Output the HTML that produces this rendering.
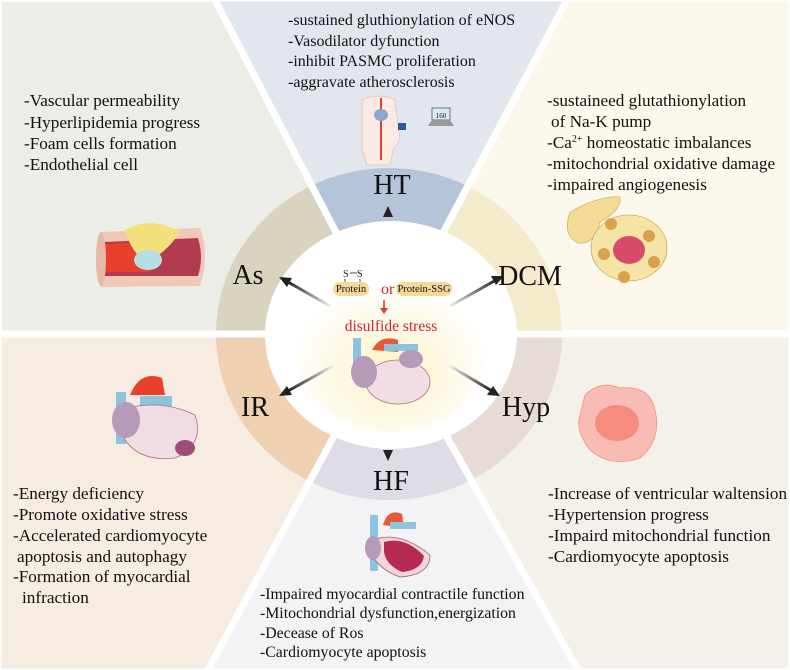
<!DOCTYPE html>
<html><head><meta charset="utf-8"><style>
html,body{margin:0;padding:0;background:#fff}
svg{display:block}
text{font-family:"Liberation Serif",serif;fill:#111}
</style></head><body>
<svg width="790" height="670" viewBox="0 0 790 670" xmlns="http://www.w3.org/2000/svg">
<defs>
<clipPath id="ring"><ellipse cx="389" cy="334" rx="173" ry="166"/></clipPath>
<radialGradient id="glow" cx="0.5" cy="0.62" r="0.55">
<stop offset="0" stop-color="#fdf3c6"/><stop offset="0.55" stop-color="#fef9e6"/><stop offset="1" stop-color="#ffffff"/>
</radialGradient>
<linearGradient id="gu" x1="0" y1="1" x2="0" y2="0"><stop offset="0" stop-color="#fff"/><stop offset="1" stop-color="#222"/></linearGradient>
<linearGradient id="gd" x1="0" y1="0" x2="0" y2="1"><stop offset="0" stop-color="#fff"/><stop offset="1" stop-color="#111"/></linearGradient>
<linearGradient id="gl" x1="1" y1="0" x2="0" y2="0"><stop offset="0" stop-color="#eee"/><stop offset="1" stop-color="#222"/></linearGradient>
<linearGradient id="gr" x1="0" y1="0" x2="1" y2="0"><stop offset="0" stop-color="#eee"/><stop offset="1" stop-color="#222"/></linearGradient>
</defs>
<polygon points="389,334 215,0 567,0" fill="#e2e7ee"/>
<polygon points="389,334 0,334 0,0 215,0" fill="#ecede6"/>
<polygon points="389,334 567,0 790,0 790,334" fill="#fcf8ec"/>
<polygon points="389,334 790,334 790,670 578,670" fill="#f4f0ea"/>
<polygon points="389,334 578,670 208,670" fill="#f3f2f4"/>
<polygon points="389,334 208,670 0,670 0,334" fill="#f6ece2"/>
<g clip-path="url(#ring)">
<polygon points="389,334 215,0 567,0" fill="#b6c4da"/>
<polygon points="389,334 0,334 0,0 215,0" fill="#d9d4c0"/>
<polygon points="389,334 567,0 790,0 790,334" fill="#f4ebcd"/>
<polygon points="389,334 790,334 790,670 578,670" fill="#e7dbd5"/>
<polygon points="389,334 578,670 208,670" fill="#dfdce5"/>
<polygon points="389,334 208,670 0,670 0,334" fill="#efd1b2"/>
</g>
<g stroke="#fff" stroke-width="7">
<line x1="389" y1="334" x2="215" y2="0"/><line x1="389" y1="334" x2="567" y2="0"/>
<line x1="389" y1="334" x2="208" y2="670"/><line x1="389" y1="334" x2="578" y2="670"/>
<line x1="0" y1="334" x2="790" y2="334"/>
</g>
<rect x="0" y="0" width="790" height="670" fill="none" stroke="#fff" stroke-width="3"/>
<ellipse cx="391" cy="335" rx="126" ry="114" fill="#fff"/>
<ellipse cx="391" cy="352" rx="95" ry="80" fill="url(#glow)"/>

<g stroke-width="3">
<line x1="388" y1="282" x2="388" y2="216" stroke="url(#gu)"/>
<line x1="388" y1="412" x2="388" y2="452" stroke="url(#gd)"/>
<line x1="330" y1="306" x2="288" y2="282" stroke="url(#gl)"/>
<line x1="333" y1="366" x2="288" y2="391" stroke="url(#gl)"/>
<line x1="450" y1="306" x2="496" y2="280" stroke="url(#gr)"/>
<line x1="450" y1="366" x2="492" y2="391" stroke="url(#gr)"/>
</g>
<g fill="#222">
<polygon points="388,206 383,217 393,217"/>
<polygon points="388,461 383,450 393,450"/>
<polygon points="279,277 292,278 287,287"/>
<polygon points="279,396 287,386 292,395"/>
<polygon points="504,276 491,276 496,285"/>
<polygon points="500,396 487,395 493,386"/>
</g>

<g font-size="28">
<text x="392" y="194" text-anchor="middle">HT</text>
<text x="248" y="284" text-anchor="middle">As</text>
<text x="530" y="285" text-anchor="middle">DCM</text>
<text x="255" y="416" text-anchor="middle">IR</text>
<text x="526" y="416" text-anchor="middle">Hyp</text>
<text x="391" y="490" text-anchor="middle">HF</text>
</g>

<text x="343" y="277" font-size="10">S</text><text x="357" y="277" font-size="10">S</text>
<line x1="350" y1="273" x2="357" y2="273" stroke="#222" stroke-width="0.8"/>
<line x1="345" y1="279" x2="345" y2="283" stroke="#222" stroke-width="0.8"/>
<line x1="360" y1="279" x2="360" y2="283" stroke="#222" stroke-width="0.8"/>
<rect x="333" y="282" width="36" height="14" rx="7" fill="#f8d89a"/>
<text x="351" y="292" font-size="10.5" text-anchor="middle">Protein</text>
<text x="381" y="294" font-size="16" style="fill:#cc2b2b">or</text>
<rect x="396" y="282" width="56" height="14" rx="7" fill="#f8d89a"/>
<text x="424" y="292" font-size="10.5" text-anchor="middle">Protein-SSG</text>
<line x1="384" y1="300" x2="384" y2="309" stroke="#e03a2a" stroke-width="1.5"/>
<polygon points="380,308 388,308 384,314" fill="#e03a2a"/>
<text x="391" y="331" font-size="15.5" text-anchor="middle" style="fill:#c8282e">disulfide stress</text>

<g>
<rect x="353" y="338" width="8" height="38" fill="#8ec3de"/>
<path d="M372,350 Q380,334 398,340 L398,352 Z" fill="#e8593a"/>
<rect x="384" y="344" width="34" height="7" fill="#8ec3de"/>
<ellipse cx="398" cy="382" rx="32" ry="22" fill="#f1dde3" stroke="#b0707a" stroke-width="0.8"/>
<ellipse cx="364" cy="372" rx="13" ry="16" fill="#b69ab8"/>
<ellipse cx="411" cy="359" rx="12" ry="9" fill="#b69ab8"/>
</g>

<g font-size="16">
<text x="288" y="25">-sustained gluthionylation of eNOS</text>
<text x="288" y="46">-Vasodilator dyfunction</text>
<text x="288" y="66">-inhibit PASMC proliferation</text>
<text x="288" y="87">-aggravate atherosclerosis</text>
</g>
<g font-size="17.2">
<text x="24" y="106">-Vascular permeability</text>
<text x="24" y="128">-Hyperlipidemia progress</text>
<text x="24" y="149">-Foam cells formation</text>
<text x="24" y="170">-Endothelial cell</text>

<text x="547" y="106">-sustaineed glutathionylation</text>
<text x="551" y="127">of Na-K  pump</text>
<text x="547" y="148">-Ca<tspan font-size="10" dy="-6">2+</tspan><tspan dy="6"> homeostatic imbalances</tspan></text>
<text x="547" y="169">-mitochondrial oxidative damage</text>
<text x="547" y="190">-impaired angiogenesis</text>

<text x="13" y="499">-Energy deficiency</text>
<text x="13" y="520">-Promote oxidative stress</text>
<text x="13" y="541">-Accelerated cardiomyocyte</text>
<text x="17" y="562">apoptosis and autophagy</text>
<text x="13" y="582">-Formation of myocardial</text>
<text x="22" y="603">infraction</text>

<text x="548" y="499">-Increase of ventricular waltension</text>
<text x="548" y="520">-Hypertension progress</text>
<text x="548" y="541">-Impaird mitochondrial function</text>
<text x="548" y="562">-Cardiomyocyte apoptosis</text>
</g>
<g font-size="15.8">
<text x="260" y="599">-Impaired myocardial contractile function</text>
<text x="260" y="618">-Mitochondrial dysfunction,energization</text>
<text x="260" y="638">-Decease of Ros</text>
<text x="260" y="657">-Cardiomyocyte apoptosis</text>
</g>

<g>
<path d="M362,100 Q378,92 395,100 L400,140 L393,150 L390,165 L367,165 L362,150 Z" fill="#fbeae3" stroke="#d8b8ae" stroke-width="0.6"/>
<line x1="381" y1="98" x2="381" y2="160" stroke="#e0402a" stroke-width="2"/>
<ellipse cx="381" cy="115" rx="7" ry="6" fill="#8aa7cc"/>
<rect x="398" y="123" width="8" height="7" fill="#2a5a9a"/>
<rect x="432" y="108" width="18" height="12" fill="#d8eaf3" stroke="#555" stroke-width="0.8"/>
<text x="441" y="118" font-size="7" text-anchor="middle">160</text>
<path d="M428,126 L454,126 L450,120 L432,120 Z" fill="#999"/>
</g>

<g>
<path d="M100,232 L200,228 Q210,255 200,286 L100,287 Z" fill="#f1c7b8"/>
<path d="M104,242 L198,238 Q204,258 198,276 L104,276 Z" fill="#b23a4e"/>
<path d="M104,244 L150,242 L150,272 L104,272 Z" fill="#e8402a"/>
<path d="M125,230 Q150,215 180,232 Q165,255 145,262 Q130,250 125,230 Z" fill="#f3e07c"/>
<ellipse cx="148" cy="260" rx="14" ry="10" fill="#b7dde6"/>
<ellipse cx="101" cy="259" rx="5" ry="27" fill="#e8b8a8"/>
</g>

<g>
<path d="M570,212 Q600,195 620,197 Q622,210 600,222 Q595,245 578,243 Q562,235 570,212 Z" fill="#f5dc96" stroke="#c9a85a" stroke-width="0.6"/>
<ellipse cx="629" cy="248" rx="38" ry="33" fill="#f6e3a6" stroke="#b89858" stroke-width="0.6"/>
<ellipse cx="629" cy="250" rx="16" ry="14" fill="#d84a6a"/>
<circle cx="611" cy="224" r="6" fill="#d9a14a"/><circle cx="649" cy="236" r="6" fill="#d9a14a"/>
<circle cx="604" cy="254" r="6" fill="#d9a14a"/><circle cx="654" cy="262" r="6" fill="#d9a14a"/>
<circle cx="624" cy="277" r="6" fill="#d9a14a"/>
</g>

<g>
<rect x="116" y="392" width="10" height="52" fill="#8ec3de"/>
<path d="M130,395 Q140,370 162,378 L165,395 Z" fill="#e8402a"/>
<rect x="140" y="396" width="32" height="10" fill="#8ec3de"/>
<path d="M120,410 Q160,398 195,415 Q205,445 175,458 Q140,462 125,440 Z" fill="#f0dde3" stroke="#b0707a" stroke-width="0.8"/>
<ellipse cx="126" cy="420" rx="14" ry="18" fill="#b69ab8"/>
<ellipse cx="185" cy="448" rx="10" ry="8" fill="#a04a7a"/>
</g>

<g>
<path d="M585,395 Q600,380 620,388 Q650,385 655,410 Q662,440 640,458 Q610,468 590,450 Q575,430 580,415 Z" fill="#f9bcb4" stroke="#f0957f" stroke-width="0.8"/>
<ellipse cx="617" cy="423" rx="22" ry="18" fill="#f68b80"/>
</g>

<g>
<rect x="370" y="515" width="8" height="56" fill="#8ec3de"/>
<path d="M383,525 Q388,508 402,514 L404,528 Z" fill="#e8593a"/>
<rect x="390" y="522" width="26" height="7" fill="#8ec3de"/>
<path d="M372,540 Q400,530 430,555 Q430,575 400,577 Q380,570 372,555 Z" fill="#f1d6dc" stroke="#a06070" stroke-width="0.8"/>
<path d="M384,542 Q405,536 424,556 Q422,570 402,572 Q386,565 384,552 Z" fill="#b52a50"/>
<ellipse cx="373" cy="548" rx="8" ry="12" fill="#b69ab8"/>
</g>
</svg>
</body></html>
